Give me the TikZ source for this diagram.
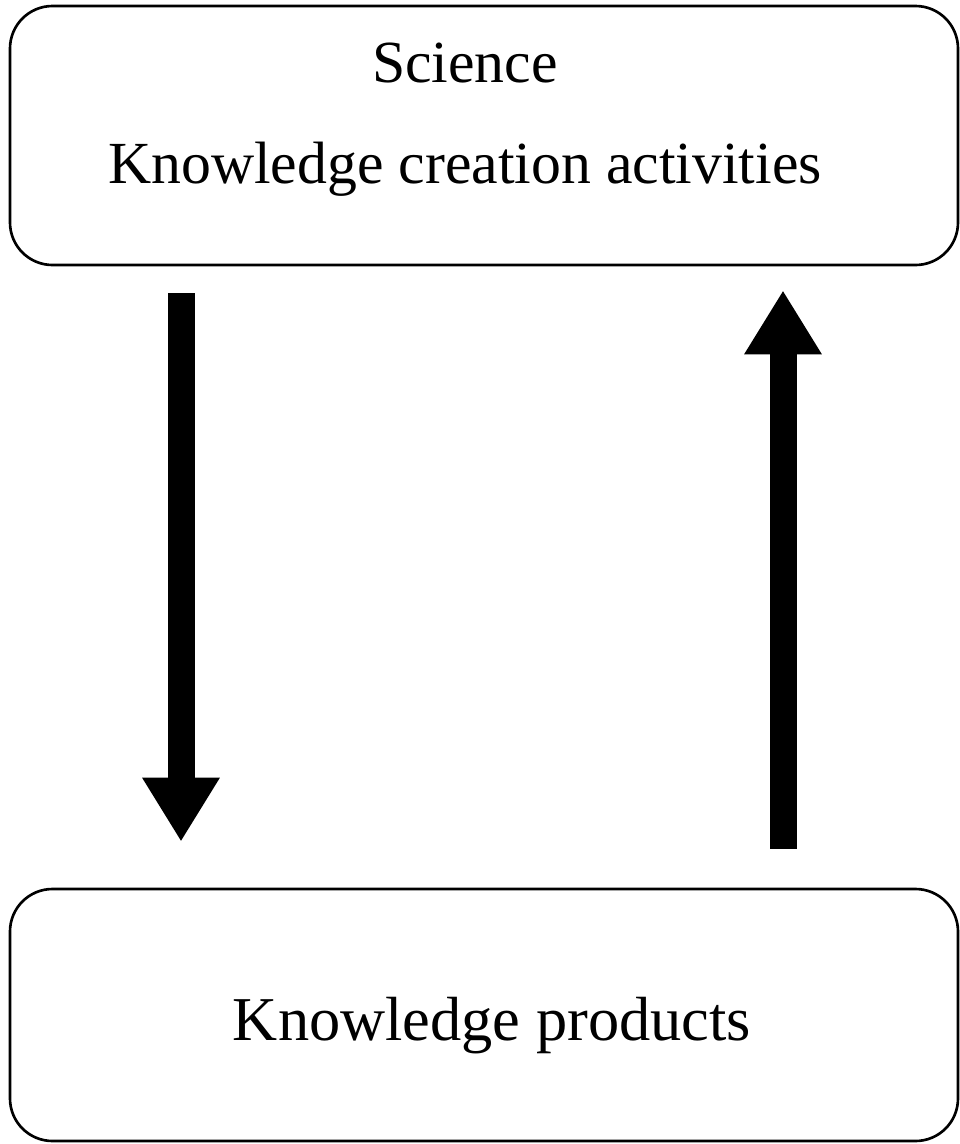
\documentclass[tikz,border=0pt]{standalone}
\usepackage{fontspec}
\setmainfont{Liberation Serif}
\usepackage{tikz}
\usetikzlibrary{arrows.meta}

\begin{document}
\begin{tikzpicture}[
    box/.style={draw, line width=1.5pt, rounded corners=0.85cm, minimum width=18.96cm},
    label/.style={anchor=base, font=\fontsize{34}{40}\selectfont},
    bigarrow/.style={line width=0.54cm, -{Triangle[width=1.46cm, length=1.28cm]}}
  ]
    \useasboundingbox (0,0) rectangle (19.2,-22.88);

    \node[box, minimum height=5.18cm] (science) at (9.68,-2.71) {};
    \node[box, minimum height=5.04cm] (products) at (9.68,-20.3) {};

    \node[label] (sciname) at (9.3,-1.64) {Science};
    \node[label] (scitext) at (9.3,-3.66) {Knowledge creation activities};
    \node[label, font=\fontsize{35.5}{40}\selectfont] (prodtext) at (9.84,-20.8) {Knowledge products};

    \draw[bigarrow] ([xshift=-6.06cm, yshift=-0.54cm]science.south)
        -- ([xshift=-6.06cm, yshift=0.92cm]products.north);
    \draw[bigarrow] ([xshift=5.98cm, yshift=0.78cm]products.north)
        -- ([xshift=5.98cm, yshift=-0.48cm]science.south);
\end{tikzpicture}
\end{document}
